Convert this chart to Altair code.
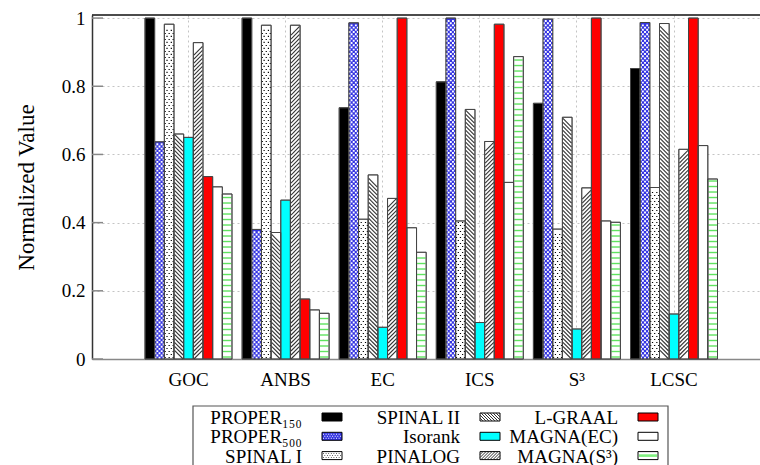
import altair as alt
import pandas as pd

# ---------------- data ----------------
categories = ["GOC", "ANBS", "EC", "ICS", "S³", "LCSC"]
series = ["PROPER₁₅₀", "PROPER₅₀₀", "SPINAL I", "SPINAL II", "Isorank",
          "PINALOG", "L-GRAAL", "MAGNA(EC)", "MAGNA(S³)"]

proper150 = [1.0, 1.0, 0.737, 0.813, 0.75, 0.852]
proper500 = [0.637, 0.38, 0.986, 1.0, 0.997, 0.987]
spinal1 = [0.982, 0.979, 0.41, 0.405, 0.381, 0.503]
spinal2 = [0.66, 0.371, 0.54, 0.732, 0.709, 0.984]
isorank = [0.65, 0.466, 0.093, 0.107, 0.088, 0.132]
pinalog = [0.928, 0.979, 0.471, 0.638, 0.502, 0.615]
lgraal = [0.535, 0.176, 1.0, 0.982, 1.0, 1.0]
magna_ec = [0.505, 0.144, 0.385, 0.518, 0.405, 0.626]
magna_s3 = [0.484, 0.134, 0.313, 0.887, 0.401, 0.528]

yticks = [0, 0.2, 0.4, 0.6, 0.8, 1]

values = [proper150, proper500, spinal1, spinal2, isorank, pinalog,
          lgraal, magna_ec, magna_s3]
rows = []
for s, vals in zip(series, values):
    for c, v in zip(categories, vals):
        rows.append({"series": s, "category": c, "value": v})
df = pd.DataFrame(rows)
leg_df = pd.DataFrame({"series": series, "i": list(range(len(series)))})
tick_df = pd.DataFrame({"t": yticks})
one = pd.DataFrame({"a": [0]})

# ---------------- styles ----------------
FONT = "Liberation Serif"
W, H = 668, 344
YMAX = 1.009
PXU = H / YMAX
fills = ["#000000", "#3434e2", "#ffffff", "#ffffff", "#00ffff",
         "#ffffff", "#ff0000", "#ffffff", "#ffffff"]

xscale = alt.Scale(domain=categories, paddingInner=0.104, paddingOuter=0.4917,
                   align=0.555, round=False)
xoscale = alt.Scale(domain=series, paddingInner=0, paddingOuter=0, round=False)
yscale = alt.Scale(domain=[0, YMAX], nice=False, zero=True)
fillscale = alt.Scale(domain=series, range=fills)

XAXIS = alt.Axis(title=None, labelAngle=0, ticks=False, domainColor="#888",
                 domainWidth=1.5, labelFont=FONT, labelFontSize=19,
                 labelColor="#000", labelPadding=11, grid=True,
                 gridDash=[2, 3], gridColor="#c4c4c4", bandPosition=0.5)
YAXIS = alt.Axis(title="Normalized Value", values=yticks, format="~g",
                 ticks=False, labelPadding=7, domainColor="#333",
                 domainWidth=1.5, labelFont=FONT, labelFontSize=19,
                 labelColor="#000", grid=True, gridDash=[2, 3],
                 gridColor="#c4c4c4", titleFont=FONT, titleFontSize=23,
                 titleFontWeight="normal", titleColor="#000",
                 titleAngle=270, titleX=-59, titleY=H / 2,
                 titleBaseline="alphabetic", titleAlign="center")

X_main = alt.X("category:N", sort=categories, scale=xscale, axis=XAXIS)
XO = alt.XOffset("series:N", sort=series, scale=xoscale)
Yf = lambda f: alt.Y(f, type="quantitative", scale=yscale, axis=YAXIS)


def sq(pts, h):
    return " ".join(f"M{x-h:.3f},{y-h:.3f}h{2*h:.3f}v{2*h:.3f}h{-2*h:.3f}z" for x, y in pts)


bars = alt.Chart(df).mark_bar(stroke="#555", strokeWidth=0.8).encode(
    x=X_main, xOffset=XO, y=Yf("value"),
    fill=alt.Fill("series:N", scale=fillscale, legend=None),
)


def pattern(name, path, step_px, margin_px, filled, color, sw=1.0, span=8.6):
    m = margin_px / PXU
    s = step_px / PXU
    base = alt.Chart(df).transform_filter(alt.datum.series == name).transform_calculate(
        lv=f"sequence({m:.5f}, datum.value - {m:.5f}, {s:.5f})"
    ).transform_flatten(["lv"])
    if filled:
        mk = base.mark_point(shape=path, size=span ** 2, filled=True, fill=color,
                             strokeWidth=0, opacity=1)
    else:
        mk = base.mark_point(shape=path, size=span ** 2, filled=False, stroke=color,
                             strokeWidth=sw, opacity=1)
    return mk.encode(x=X_main, xOffset=XO, y=Yf("lv"))


dots_sp1 = sq([(-0.5, -0.35), (0.5, -0.35), (0.0, 0.35), (-0.93, 0.35), (0.93, 0.35)], 0.14)
dots_p500 = sq([(-0.5, -0.25), (0.5, -0.25), (0.0, 0.26), (-0.95, 0.26), (0.95, 0.26)], 0.22)

main = alt.layer(
    bars,
    pattern(series[1], dots_p500, 4.4, 2.4, True, "#ffffff"),
    pattern(series[2], dots_sp1, 6.0, 3.0, True, "#000000"),
    pattern(series[3], "M-1,-1L1,1", 4.0, 4.3, False, "#333333", 1.1),
    pattern(series[5], "M-1,1L1,-1", 4.0, 4.3, False, "#333333", 1.1),
    pattern(series[8], "M-1,0L1,0", 5.5, 2.0, False, "#5fe35f", 1.4),
    alt.Chart(df).mark_bar(fillOpacity=0, stroke="#444", strokeWidth=1).encode(
        x=X_main, xOffset=XO, y=Yf("value")),
    # inner tick marks on y axis
    alt.Chart(tick_df).mark_rule(color="#888", strokeWidth=1.5).encode(
        y=Yf("t"), x=alt.value(0), x2=alt.value(11)),
    # top frame
    alt.Chart(one).mark_rule(color="#111", strokeWidth=1.5).encode(
        x=alt.value(0), x2=alt.value(W), y=alt.value(0)),
)

# ---------------- legend (pixel-layout scales) ----------------
lxs = alt.Scale(domain=[0, W], range=[0, W], nice=False, zero=False)
lys = alt.Scale(domain=[0, H], range=[0, H], nice=False, zero=False)
LX = lambda f: alt.X(f, type="quantitative", scale=lxs, axis=None)
LY = lambda f: alt.Y(f, type="quantitative", scale=lys, axis=None)


def leg_base():
    return alt.Chart(leg_df).transform_calculate(
        col="floor(datum.i / 3)", row="datum.i % 3"
    ).transform_calculate(
        lx="210 + 158 * datum.col", sx="240 + 158 * datum.col", sy="402 + 19.3 * datum.row"
    )


legend_box = alt.Chart(one).mark_rect(fillOpacity=0, stroke="#555", strokeWidth=1.2).encode(
    x=alt.value(101), x2=alt.value(576), y=alt.value(391), y2=alt.value(475))

legend_text = leg_base().mark_text(align="right", baseline="middle", font=FONT,
                                   fontSize=19, color="#000", dy=1).encode(
    x=LX("lx"), y=LY("sy"), text="series:N")

RECT = "M-1,-0.4h2v0.8h-2z"
legend_sw = leg_base().mark_point(shape=RECT, size=400, filled=True, stroke="#000",
                                  strokeWidth=1, opacity=1).encode(
    x=LX("sx"), y=LY("sy"), fill=alt.Fill("series:N", scale=fillscale, legend=None))


def hatch_path(back):
    segs = []
    x0 = -1.8
    while x0 < 1.0:
        t0 = max(0.0, (-1 - x0) / 0.8)
        t1 = min(1.0, (1 - x0) / 0.8)
        if t0 < t1:
            xa, xb = x0 + 0.8 * t0, x0 + 0.8 * t1
            if back:
                ya, yb = -0.4 + 0.8 * t0, -0.4 + 0.8 * t1
            else:
                ya, yb = 0.4 - 0.8 * t0, 0.4 - 0.8 * t1
            segs.append(f"M{xa:.3f},{ya:.3f}L{xb:.3f},{yb:.3f}")
        x0 += 0.3
    return "".join(segs)


def grid_dots(h):
    pts = []
    for r, y in enumerate([-0.2, 0.0, 0.2]):
        off = 0.0 if r % 2 == 0 else 0.13
        x = -0.85 + off
        while x < 0.9:
            pts.append((x, y))
            x += 0.26
    return sq(pts, h)


def legend_pat(name, path, filled, color, sw=1.0):
    b = leg_base().transform_filter(alt.datum.series == name)
    if filled:
        mk = b.mark_point(shape=path, size=400, filled=True, fill=color, strokeWidth=0, opacity=1)
    else:
        mk = b.mark_point(shape=path, size=400, filled=False, stroke=color,
                          strokeWidth=sw, opacity=1)
    return mk.encode(x=LX("sx"), y=LY("sy"))


legend = alt.layer(
    legend_box, legend_text, legend_sw,
    legend_pat(series[1], grid_dots(0.05), True, "#ffffff"),
    legend_pat(series[2], grid_dots(0.04), True, "#000000"),
    legend_pat(series[3], hatch_path(True), False, "#333", 1.0),
    legend_pat(series[5], hatch_path(False), False, "#333", 1.0),
    legend_pat(series[8], "M-0.9,0L0.9,0", False, "#7ff07f", 2.6),
)

chart = alt.layer(main, legend).resolve_scale(
    x="independent", y="independent", fill="shared"
).resolve_axis(x="independent", y="independent").properties(
    width=W, height=H,
    background="white",
    autosize=alt.AutoSizeParams(type="none"),
    padding={"left": 92, "top": 15, "right": 0, "bottom": 106},
).configure(font=FONT).configure_view(strokeWidth=0, stroke=None).configure_axis(
    labelFont=FONT, titleFont=FONT, labelFontSize=19, titleFontSize=23,
    titleFontWeight="normal", labelColor="#000", titleColor="#000"
)

chart.save("out.html", embed_options={"renderer": "svg", "actions": False})
